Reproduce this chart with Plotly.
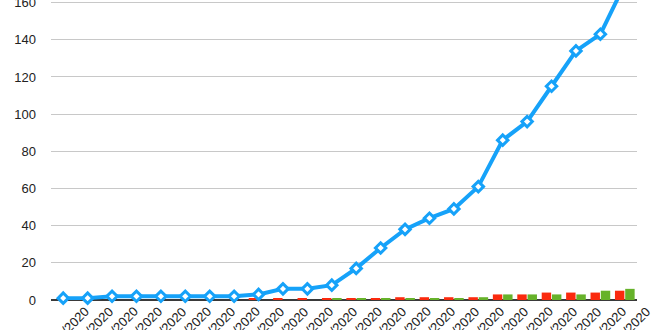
import plotly.graph_objects as go
import datetime as dt

# ---- data ----
start = dt.date(2020, 2, 24)
dates = [(start + dt.timedelta(days=i)).strftime("%d/%m/%Y") for i in range(24)]
total = [1, 1, 2, 2, 2, 2, 2, 2, 3, 6, 6, 8, 17, 28, 38, 44, 49, 61, 86, 96, 115, 134, 143, 170]
red_vals = [0, 0, 0, 0, 0, 0, 0, 0, 0.9, 0.9, 0.9, 0.9, 0.9, 0.9, 1.5, 1.5, 1.5, 1.5, 3, 3, 4, 4, 4, 5]
green_vals = [0, 0, 0, 0, 0, 0, 0, 0, 0, 0, 0, 0.9, 0.9, 0.9, 0.9, 0.9, 0.9, 1.5, 3, 3, 3, 3, 5, 6]
y_ticks = [0, 20, 40, 60, 80, 100, 120, 140, 160]

BLUE = "#16A2F9"
RED = "#FA2A0E"
GREEN = "#66B22A"
FONT = "Liberation Sans, Arial, sans-serif"

x = list(range(len(dates)))

fig = go.Figure()
fig.add_trace(go.Bar(x=x, y=red_vals, marker=dict(color=RED, line=dict(width=0)), showlegend=False))
fig.add_trace(go.Bar(x=x, y=green_vals, marker=dict(color=GREEN, line=dict(width=0)), showlegend=False))
fig.add_trace(go.Scatter(
    x=x, y=total, mode="lines+markers", cliponaxis=False, showlegend=False,
    line=dict(color=BLUE, width=4),
    marker=dict(symbol="diamond", size=8, color="white", line=dict(color=BLUE, width=3)),
))

annotations = [
    dict(x=xi, y=0, xref="x", yref="paper", text=d, showarrow=False,
         textangle=-45, xanchor="center", yanchor="middle", xshift=0, yshift=-32,
         font=dict(family=FONT, size=13, color="#222222"))
    for xi, d in zip(x, dates)
]

fig.update_layout(
    width=660, height=330,
    margin=dict(l=51, r=23, t=0, b=30, autoexpand=False),
    paper_bgcolor="white", plot_bgcolor="white",
    barmode="group", bargap=0.16, bargroupgap=0.08,
    font=dict(family=FONT, size=12, color="#222222"),
    annotations=annotations,
    xaxis=dict(range=[-0.5, len(dates) - 0.5], showticklabels=False, showgrid=False,
               zeroline=False, showline=False, ticks="", automargin=False),
    yaxis=dict(range=[0, 161.4], tickvals=y_ticks, showgrid=True, gridcolor="#C8C8C8",
               gridwidth=1, zeroline=True, zerolinecolor="#3A3A3A", zerolinewidth=2,
               showline=False, ticks="", ticklabelstandoff=14, ticklabeloverflow="allow",
               automargin=False,
               tickfont=dict(family=FONT, size=13, color="#222222")),
)

fig.write_html("out.html")
